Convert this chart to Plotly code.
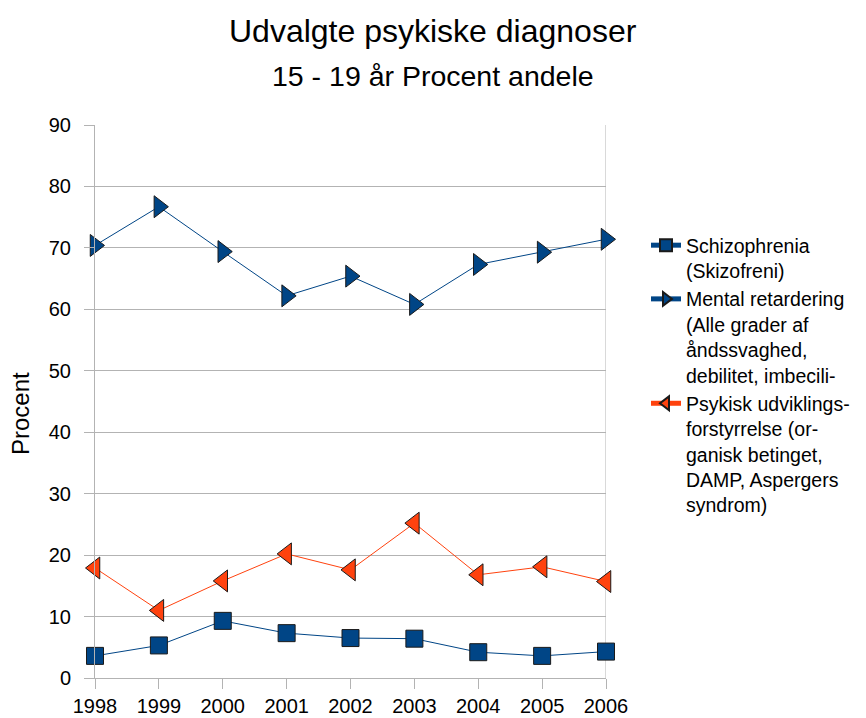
import plotly.graph_objects as go

years = [1998, 1999, 2000, 2001, 2002, 2003, 2004, 2005, 2006]
schizo = [3.6, 5.3, 9.3, 7.3, 6.5, 6.4, 4.2, 3.6, 4.3]
mental = [70.4, 76.7, 69.4, 62.2, 65.4, 60.8, 67.3, 69.3, 71.4]
psyk = [17.9, 11.0, 15.8, 20.2, 17.6, 25.2, 16.8, 18.1, 15.7]
y_ticks = [0, 10, 20, 30, 40, 50, 60, 70, 80, 90]

name_schizo = "Schizophrenia<br>(Skizofreni)"
name_mental = "Mental retardering<br>(Alle grader af<br>åndssvaghed,<br>debilitet, imbecili-"
name_psyk = "Psykisk udviklings-<br>forstyrrelse (or-<br>ganisk betinget,<br>DAMP, Aspergers<br>syndrom)"

blue = "#004586"
orange = "#ff420e"
grid = "#b3b3b3"
outline = dict(color="#1a1a1a", width=1)
font_family = "Liberation Sans, Arial, sans-serif"

W, H = 866, 718
L, R, T, B = 95, 260, 125, 40
PW, PH = W - L - R, H - T - B

fig = go.Figure()
fig.add_trace(go.Scatter(x=years, y=schizo, name=name_schizo, mode="lines+markers",
                         line=dict(color=blue, width=1),
                         marker=dict(symbol="square", size=17, color=blue, line=outline),
                         cliponaxis=False))
fig.add_trace(go.Scatter(x=years, y=mental, name=name_mental, mode="lines+markers",
                         line=dict(color=blue, width=1),
                         marker=dict(symbol="triangle-right", size=19, color=blue, line=outline),
                         cliponaxis=False))
fig.add_trace(go.Scatter(x=years, y=psyk, name=name_psyk, mode="lines+markers",
                         line=dict(color=orange, width=1),
                         marker=dict(symbol="triangle-left", size=19, color=orange, line=outline),
                         cliponaxis=False))

fig.update_layout(
    width=W, height=H,
    margin=dict(l=L, r=R, t=T, b=B, autoexpand=False),
    paper_bgcolor="white", plot_bgcolor="white",
    font=dict(family=font_family, size=20, color="black"),
    showlegend=True,
    legend=dict(x=(646 - L) / PW, y=(H - B - 226) / PH, xanchor="left", yanchor="top",
                font=dict(size=19.5, family=font_family),
                itemsizing="constant", tracegroupgap=0, valign="top",
                bgcolor="rgba(0,0,0,0)"),
    xaxis=dict(range=[1998, 2006], tickmode="array", tickvals=years,
               ticktext=[str(y) for y in years],
               showgrid=False, zeroline=False, automargin=False,
               showline=True, linecolor=grid, linewidth=1,
               ticks="outside", ticklen=10, tickcolor=grid,
               ticklabelstandoff=0,
               tickfont=dict(size=20)),
    yaxis=dict(range=[0, 90], tickmode="array", tickvals=y_ticks,
               showgrid=True, gridcolor=grid, gridwidth=1, zeroline=False,
               automargin=False,
               showline=True, linecolor=grid, linewidth=1,
               ticks="outside", ticklen=10, tickcolor=grid,
               ticklabelstandoff=9,
               tickfont=dict(size=20)),
)

# right border of plot area
fig.add_shape(type="line", xref="x", yref="paper", x0=2006, x1=2006, y0=0, y1=1,
              line=dict(color=grid, width=1), layer="below")

cx = (W / 2 - L) / PW
fig.add_annotation(text="Udvalgte psykiske diagnoser", xref="paper", yref="paper",
                   x=cx, y=(H - B - 31) / PH, showarrow=False,
                   xanchor="center", yanchor="middle", font=dict(size=32))
fig.add_annotation(text="15 - 19 år Procent andele", xref="paper", yref="paper",
                   x=cx, y=(H - B - 76) / PH, showarrow=False,
                   xanchor="center", yanchor="middle", font=dict(size=28.5))
fig.add_annotation(text="Procent", xref="paper", yref="paper",
                   x=(20 - L) / PW, y=(H - B - 414) / PH, showarrow=False,
                   textangle=-90, xanchor="center", yanchor="middle", font=dict(size=24))

fig.write_html("out.html", config={"displayModeBar": False},
               post_script="document.body.style.margin='0';")
